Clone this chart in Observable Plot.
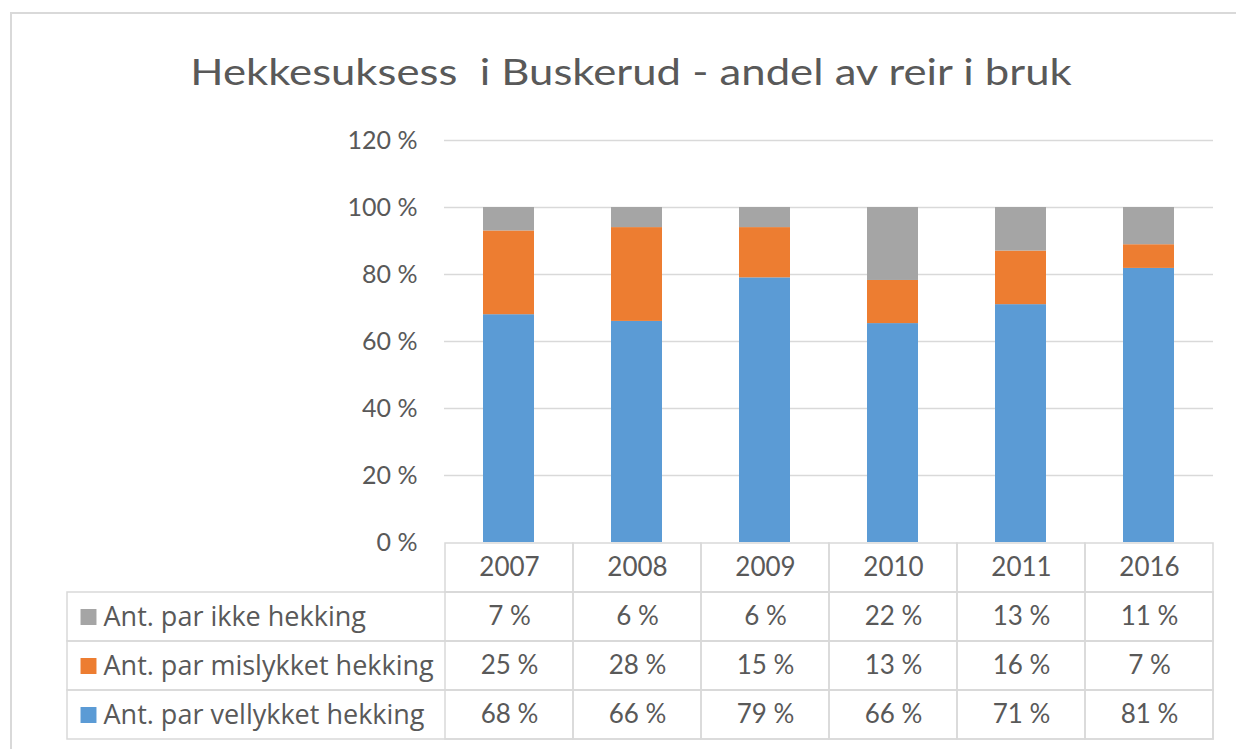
<!DOCTYPE html>
<html>
<head>
<meta charset="utf-8">
<script src="https://cdn.jsdelivr.net/npm/d3@7"></script>
<script src="https://cdn.jsdelivr.net/npm/@observablehq/plot@0.6"></script>
<style>
  html, body { margin: 0; padding: 0; background: #fff; }
  body { width: 1236px; height: 749px; overflow: hidden; position: relative; font-family: Lato, "Open Sans", sans-serif; }
  #frame { position: absolute; left: 10px; top: 12px; width: 1240px; height: 760px; border-top: 2px solid #d9d9d9; border-left: 2px solid #d9d9d9; }
  #title { position: absolute; left: 0; width: 1262px; top: 52px; line-height: 37px; text-align: center; font-size: 37px; color: #595959; white-space: pre; transform: scaleX(1.18); transform-origin: 631px 50%; }
  #chart { position: absolute; left: 0; top: 100px; }
  #table { position: absolute; left: 0; top: 541px; }
</style>
</head>
<body>
<div id="frame"></div>
<div id="title">Hekkesuksess  i Buskerud - andel av reir i bruk</div>
<div id="chart"></div>
<div id="table"></div>
<script>
// ---- data ----
const years = ["2007", "2008", "2009", "2010", "2011", "2016"];
const seriesNames = ["Ant. par ikke hekking", "Ant. par mislykket hekking", "Ant. par vellykket hekking"];
const ikke = [7, 6, 6, 22, 13, 11];
const mislykket = [25, 28, 15, 13, 16, 7];
const vellykket = [68, 66, 79, 66, 71, 81];
const seriesColors = ["#a5a5a5", "#ed7d31", "#5b9bd5"];
const yTicks = [0, 0.2, 0.4, 0.6, 0.8, 1.0, 1.2];

const valuesBySeries = {
  "Ant. par ikke hekking": ikke,
  "Ant. par mislykket hekking": mislykket,
  "Ant. par vellykket hekking": vellykket
};

// long rows, bottom of stack first
const stackOrder = ["Ant. par vellykket hekking", "Ant. par mislykket hekking", "Ant. par ikke hekking"];
const rows = [];
stackOrder.forEach(s => years.forEach((y, i) => rows.push({year: y, series: s, value: valuesBySeries[s][i]})));

const pct = v => v + " %";
const textColor = "#595959";
const gridColor = "#d9d9d9";

// ---- chart ----
const chart = Plot.plot({
  width: 1236,
  height: 457,
  marginTop: 40,
  marginBottom: 15,
  marginLeft: 444,
  marginRight: 23,
  style: {fontFamily: "Lato, sans-serif", fontSize: "25px", color: textColor, background: "transparent", overflow: "visible"},
  x: {domain: years, axis: null, paddingInner: 0.6, paddingOuter: 0.3},
  y: {domain: [0, 1.2], ticks: yTicks, tickFormat: d => Math.round(d * 100) + " %", label: null, tickSize: 0, tickPadding: 27},
  color: {domain: seriesNames, range: seriesColors},
  marks: [
    Plot.ruleY(yTicks.slice(1), {stroke: gridColor, strokeWidth: 1.5}),
    Plot.barY(rows, Plot.stackY({offset: "normalize"}, {x: "year", y: "value", fill: "series"}))
  ]
});
document.getElementById("chart").appendChild(chart);

// ---- data table ----
const tableRows = ["header", ...seriesNames];
const cells = [];
years.forEach(y => cells.push({row: "header", year: y, text: y}));
seriesNames.forEach(s => years.forEach((y, i) => cells.push({row: s, year: y, text: pct(valuesBySeries[s][i])})));

const table = Plot.plot({
  width: 1236,
  height: 201,
  marginTop: 1,
  marginBottom: 2,
  marginLeft: 67,
  marginRight: 23,
  style: {fontFamily: "Lato, sans-serif", fontSize: "26px", color: textColor, background: "transparent", overflow: "visible"},
  x: {type: "band", domain: years, range: [444, 1213], padding: 0, axis: null},
  y: {type: "band", domain: tableRows, padding: 0, axis: null},
  color: {domain: seriesNames, range: seriesColors},
  marks: [
    Plot.cell(seriesNames, {y: d => d, fill: "none", stroke: gridColor, strokeWidth: 1.5}),
    Plot.cell(cells, {x: "year", y: "row", fill: "none", stroke: gridColor, strokeWidth: 1.5}),
    Plot.text(cells, {x: "year", y: "row", text: "text", fill: textColor}),
    Plot.dot(seriesNames, {y: d => d, frameAnchor: "left", dx: 21, symbol: "square", r: 9, fill: d => d, stroke: null}),
    Plot.text(seriesNames, {y: d => d, frameAnchor: "left", dx: 36, textAnchor: "start", text: d => d, fill: textColor, fontFamily: "Open Sans", fontSize: 27})
  ]
});
document.getElementById("table").appendChild(table);
</script>
</body>
</html>
